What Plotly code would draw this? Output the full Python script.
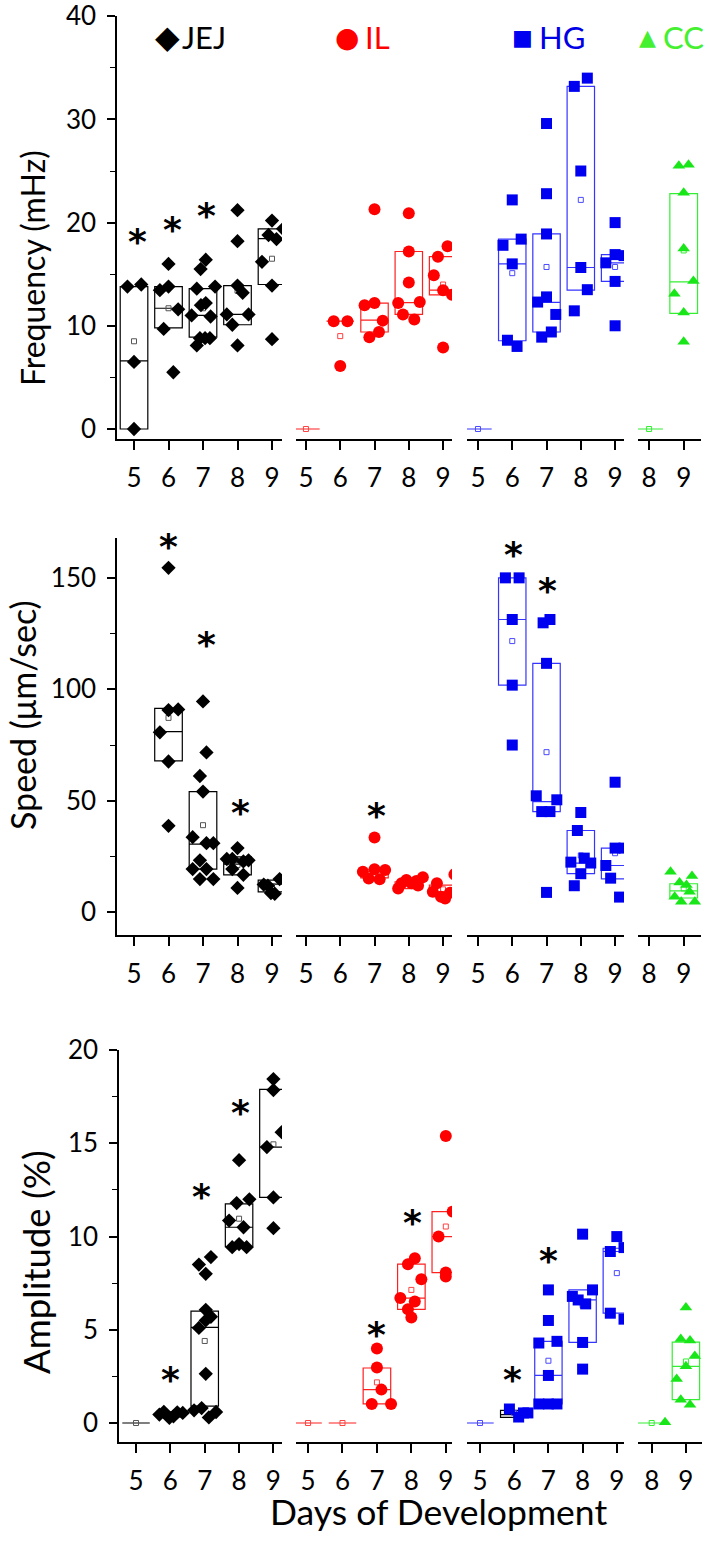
import plotly.graph_objects as go

# ---------------- DATA ----------------
DAYS_MAIN = [5, 6, 7, 8, 9]
DAYS_CC = [8, 9]
TICK_LABELS_MAIN = ["5", "6", "7", "8", "9"]
TICK_LABELS_CC = ["8", "9"]

# ---- Frequency (mHz) ----
FREQ_JEJ_VALS = [[13.8, 14.0, 6.5, 0.0],
                 [13.45, 13.8, 16.0, 11.6, 9.7, 5.5],
                 [13.6, 13.8, 15.5, 16.4, 12.0, 12.2, 11.0, 10.9, 8.1, 8.8, 8.8, 8.8],
                 [21.2, 18.2, 13.9, 13.2, 11.1, 11.1, 10.1, 8.1],
                 [20.2, 19.4, 18.8, 18.4, 16.2, 13.9, 8.7]]
FREQ_JEJ_JIT = [[-0.19, 0.21, 0, 0],
                [-0.25, 0, 0, 0.28, -0.14, 0.14],
                [-0.18, 0.35, -0.07, 0.08, -0.06, 0.08, -0.33, 0.22, -0.18, -0.09, 0.06, 0.2],
                [0, 0, 0, 0.15, -0.31, 0.32, -0.15, 0],
                [0, 0.32, -0.1, 0.13, -0.29, 0, 0]]
FREQ_JEJ_Q1 = [0, 9.8, 8.9, 10.1, 14.0]
FREQ_JEJ_MED = [6.6, 11.7, 11.0, 11.1, 18.45]
FREQ_JEJ_Q3 = [13.8, 13.8, 13.6, 13.9, 19.4]
FREQ_JEJ_MEAN = [8.5, 11.7, 11.7, 13.4, 16.5]

FREQ_IL_VALS = [[],
                [10.45, 10.45, 6.1],
                [21.3, 12.0, 12.2, 10.5, 9.4, 8.9],
                [20.9, 17.2, 14.2, 12.2, 12.3, 11.1, 10.6],
                [17.7, 16.7, 14.9, 13.45, 13.0, 7.9]]
FREQ_IL_JIT = [[],
               [-0.19, 0.21, 0],
               [0, -0.29, 0, 0.24, 0.13, -0.15],
               [0, 0, 0, -0.31, 0.32, -0.17, 0.16],
               [0.13, -0.15, -0.27, 0, 0.26, 0]]
FREQ_IL_Q1 = [0, 6.1, 9.4, 11.1, 13.0]
FREQ_IL_MED = [0, 10.45, 10.55, 12.25, 13.45]
FREQ_IL_Q3 = [0, 10.4, 12.2, 17.2, 16.7]
FREQ_IL_MEAN = [0, 9.0, 12.4, 14.1, 14.0]

FREQ_HG_VALS = [[],
                [22.2, 17.8, 18.4, 16.0, 8.6, 8.0],
                [29.6, 22.8, 18.9, 12.8, 12.3, 11.1, 9.4, 8.9],
                [34.0, 33.2, 25.0, 15.65, 13.5, 11.45],
                [20.0, 16.9, 16.8, 16.1, 14.3, 10.0]]
FREQ_HG_JIT = [[],
               [0, -0.27, 0.26, 0, -0.14, 0.14],
               [0, 0, 0, 0, -0.26, 0.27, 0.14, -0.14],
               [0.19, -0.19, 0, 0, 0.19, -0.19],
               [0, 0, 0.26, -0.27, 0, 0]]
FREQ_HG_Q1 = [0, 8.55, 9.4, 13.45, 14.3]
FREQ_HG_MED = [0, 16.0, 12.26, 15.65, 16.1]
FREQ_HG_Q3 = [0, 18.4, 18.9, 33.2, 16.9]
FREQ_HG_MEAN = [0, 15.1, 15.7, 22.2, 15.7]

FREQ_CC_VALS = [[], [25.5, 25.6, 22.9, 17.5, 14.35, 13.1, 11.3, 8.45]]
FREQ_CC_JIT = [[], [-0.14, 0.14, 0, 0, 0.28, -0.27, 0, 0]]
FREQ_CC_Q1 = [0, 11.2]
FREQ_CC_MED = [0, 14.26]
FREQ_CC_Q3 = [0, 22.8]
FREQ_CC_MEAN = [0, 17.3]

# ---- Speed (um/sec) ----
SPEED_JEJ_DAYS = [6, 7, 8, 9]
SPEED_JEJ_VALS = [[154.6, 90.7, 91.0, 80.7, 67.6, 38.7],
                  [94.6, 71.7, 61.1, 54.1, 33.6, 30.9, 30.9, 23.2, 19.3, 19.3, 14.8, 14.8],
                  [28.7, 23.8, 23.8, 19.3, 22.7, 23.2, 16.7, 10.8],
                  [12.3, 11.8, 8.5, 8.2, 14.8, 14.5]]
SPEED_JEJ_JIT = [[0, 0, 0.28, -0.25, 0, 0],
                 [0, 0.1, -0.09, 0, -0.3, 0.1, 0.3, -0.09, -0.3, 0.1, -0.09, 0.3],
                 [0, -0.31, -0.15, -0.15, 0.17, 0.32, 0.17, 0],
                 [-0.24, -0.12, -0.03, 0.08, 0.22, 0.4]]
SPEED_JEJ_Q1 = [67.9, 19.3, 16.7, 9.0]
SPEED_JEJ_MED = [81.0, 30.5, 21.5, 12.5]
SPEED_JEJ_Q3 = [91.5, 54.1, 24.8, 14.3]
SPEED_JEJ_MEAN = [87.2, 39.0, 21.1, 11.6]

SPEED_IL_DAYS = [7, 8, 9]
SPEED_IL_VALS = [[33.5, 18.1, 19.2, 18.9, 15.1, 14.7],
                 [10.6, 12.9, 14.4, 12.9, 13.9, 11.9, 15.6],
                 [16.9, 12.9, 9.1, 6.9, 6.1, 8.7]]
SPEED_IL_JIT = [[0, -0.34, 0, 0.31, -0.17, 0.15],
                [-0.31, -0.21, -0.07, 0.08, 0.22, 0.27, 0.41],
                [0.33, -0.18, -0.3, -0.06, 0.06, 0.2]]
SPEED_IL_Q1 = [15.3, 10.5, 7.2]
SPEED_IL_MED = [18.3, 12.5, 8.9]
SPEED_IL_Q3 = [19.2, 13.6, 12.1]
SPEED_IL_MEAN = [19.9, 13.2, 10.2]

SPEED_HG_DAYS = [6, 7, 8, 9]
SPEED_HG_VALS = [[150.1, 150.1, 131.4, 101.9, 75.0],
                 [129.9, 131.4, 111.7, 52.2, 50.4, 45.1, 45.1, 8.8],
                 [44.7, 36.6, 22.4, 24.2, 22.0, 17.2, 11.8],
                 [58.3, 28.7, 28.7, 20.9, 15.2, 6.7]]
SPEED_HG_JIT = [[-0.2, 0.2, 0, 0, 0],
                [-0.1, 0.1, 0, -0.3, 0.3, -0.14, 0.1, 0],
                [0, -0.1, -0.29, 0.1, 0.29, 0, -0.19],
                [0, 0, 0.26, -0.27, -0.13, 0.13]]
SPEED_HG_Q1 = [101.9, 45.1, 17.2, 14.9]
SPEED_HG_MED = [131.4, 49.6, 22.0, 20.9]
SPEED_HG_Q3 = [150.1, 111.7, 36.6, 28.7]
SPEED_HG_MEAN = [121.7, 71.8, 25.4, 26.4]

SPEED_CC_DAYS = [9]
SPEED_CC_VALS = [[18.1, 16.2, 13.2, 12.1, 9.1, 6.9, 4.6, 4.6]]
SPEED_CC_JIT = [[-0.38, 0.24, -0.12, 0.08, 0.17, -0.26, -0.07, 0.32]]
SPEED_CC_Q1 = [6.3]
SPEED_CC_MED = [9.5]
SPEED_CC_Q3 = [12.7]
SPEED_CC_MEAN = [10.6]

# ---- Amplitude (%) ----
AMP_JEJ_VALS = [[],
                [0.45, 0.6, 0.27, 0.36, 0.57, 0.54],
                [8.5, 8.9, 8.0, 6.07, 5.1, 5.5, 5.7, 2.64, 0.68, 0.8, 0.3, 0.59],
                [14.1, 11.8, 12.0, 10.86, 10.5, 9.43, 9.6, 9.43],
                [18.45, 17.86, 15.6, 14.8, 12.1, 10.45]]
AMP_JEJ_JIT = [[],
               [-0.32, -0.19, -0.03, 0.09, 0.2, 0.36],
               [-0.17, 0.18, 0.03, 0.03, -0.17, 0.03, 0.18, 0.03, -0.31, -0.09, 0.12, 0.33],
               [0, -0.07, 0.3, -0.29, 0.13, -0.2, 0, 0.22],
               [0, 0, 0.24, -0.19, 0, 0]]
AMP_JEJ_Q1 = [0, 0.33, 0.9, 9.46, 12.1]
AMP_JEJ_MED = [0, 0.5, 5.13, 10.5, 14.8]
AMP_JEJ_Q3 = [0, 0.57, 6.0, 11.75, 17.9]
AMP_JEJ_MEAN = [0, 0.47, 4.4, 10.96, 14.95]

AMP_IL_VALS = [[], [],
               [4.0, 2.98, 1.79, 1.02, 1.02],
               [8.84, 8.52, 7.71, 6.7, 6.52, 6.1, 5.66],
               [15.4, 11.34, 10.0, 8.07, 7.86]]
AMP_IL_JIT = [[], [],
              [0, 0, 0.13, -0.15, 0.41],
              [0.1, -0.1, 0.29, -0.32, 0.1, -0.1, 0],
              [0, 0.2, -0.21, 0, 0]]
AMP_IL_Q1 = [0, 0, 1.02, 6.1, 8.07]
AMP_IL_MED = [0, 0, 1.79, 6.7, 10.0]
AMP_IL_Q3 = [0, 0, 2.95, 8.52, 11.34]
AMP_IL_MEAN = [0, 0, 2.18, 7.14, 10.54]

AMP_HG_VALS = [[],
               [0.75, 0.32, 0.54, 0.54],
               [7.14, 5.5, 4.29, 4.38, 2.55, 1.02, 1.02, 1.02],
               [10.13, 7.14, 6.79, 6.6, 6.39, 4.32, 2.89],
               [10.0, 9.41, 9.2, 5.89, 5.57]]
AMP_HG_JIT = [[],
              [-0.14, 0.13, 0.27, 0.4],
              [0, 0, -0.28, 0.25, 0, -0.28, 0, 0.25],
              [0, 0.29, -0.3, -0.13, 0.09, 0, 0],
              [0, 0.21, -0.19, -0.19, 0.21]]
AMP_HG_Q1 = [0, 0.3, 1.02, 4.32, 5.89]
AMP_HG_MED = [0, 0.45, 2.55, 6.6, 9.2]
AMP_HG_Q3 = [0, 0.68, 4.38, 7.14, 9.375]
AMP_HG_MEAN = [0, 0.54, 3.34, 6.32, 8.04]
AMP_HG_BOXCOLOR_OVERRIDE = {6: "#000000"}

AMP_CC_VALS = [[0.04], [6.2, 4.5, 4.43, 3.6, 3.04, 2.36, 1.25, 0.98]]
AMP_CC_JIT = [[0.39], [0, -0.15, 0.12, 0.26, 0, -0.27, -0.15, 0.12]]
AMP_CC_Q1 = [0, 1.25]
AMP_CC_MED = [0, 3.04]
AMP_CC_Q3 = [0, 4.34]
AMP_CC_MEAN = [0, 3.3]

# significance asterisks: (group index, day position, value)
STARS_FREQ = [(0, 5.1, 18.8), (0, 6.12, 20.0), (0, 7.1, 21.4)]
STARS_SPEED = [(0, 6.0, 167.5), (0, 7.1, 123.5), (0, 8.1, 48.0),
               (1, 7.05, 46.7), (2, 6.03, 163.9), (2, 7.03, 147.7)]
STARS_AMP = [(0, 6.0, 2.7), (0, 6.92, 12.5), (0, 8.03, 17.05),
             (1, 7.0, 5.1), (1, 8.04, 11.15), (2, 5.95, 2.73), (2, 7.0, 9.1)]

GROUP_NAMES = ["JEJ", "IL", "HG", "CC"]
Y_TITLES = ["Frequency (mHz)", "Speed (\u03bcm/sec)", "Amplitude (%)"]
X_TITLE = "Days of Development"

# ---------------- STYLE / LAYOUT ----------------
W, H = 707, 1566
FONT = "Lato"
MARKER_COLORS = ["#000000", "#FF0000", "#0000F0", "#19E619"]
BOX_COLORS = ["#000000", "#FF2020", "#3535FF", "#33EE33"]
MEAN_COLORS = ["#555555", "#FF4040", "#4A4AFF", "#33EE33"]
LEGEND_COLORS = ["#000000", "#FF0000", "#0000E6", "#44F030"]
SYMBOLS = ["diamond", "circle", "square", "triangle-up"]
SIZES = [11, 12, 11, 11]

X_DOM_PX = [[(117, 282), (296, 452), (467, 624), (638, 701)],
            [(117, 282), (296, 452), (467, 624), (638, 701)],
            [(119, 282), (296, 452), (467, 624), (638, 702)]]
X_RANGES = [[(4.507, 9.29), (4.71, 9.26), (4.68, 9.26), (7.68, 9.5)],
            [(4.507, 9.29), (4.71, 9.26), (4.68, 9.26), (7.68, 9.5)],
            [(4.504, 9.25), (4.65, 9.18), (4.62, 9.21), (7.6, 9.47)]]
Y_DOM_PX = [(16, 439), (538, 935), (1050, 1442)]
Y_RANGES = [(-0.97, 40.02), (-10.33, 168.0), (-1.02, 20.01)]
Y_DTICK = [10, 50, 5]

fig = go.Figure()


def xid(r, g):
    return r * 4 + g + 1


def add_group(r, g, days, vals, jits, q1, med, q3, means, override=None):
    xa = "x%d" % xid(r, g)
    ya = "y%d" % (r + 1)
    for i, d in enumerate(days):
        col = BOX_COLORS[g]
        if override and d in override:
            col = override[d]
        fig.add_trace(go.Box(
            x=[d], q1=[q1[i]], median=[med[i]], q3=[q3[i]],
            lowerfence=[q1[i]], upperfence=[q3[i]],
            width=0.8, whiskerwidth=0, fillcolor="rgba(0,0,0,0)",
            line=dict(color=col, width=1.2), xaxis=xa, yaxis=ya,
            showlegend=False, hoverinfo="skip"))
    fig.add_trace(go.Scatter(
        x=days, y=means, mode="markers", xaxis=xa, yaxis=ya,
        marker=dict(symbol="square-open", size=5, color=MEAN_COLORS[g],
                    line=dict(width=1, color=MEAN_COLORS[g])),
        showlegend=False, hoverinfo="skip"))
    px, py = [], []
    for d, vs, js in zip(days, vals, jits):
        for v, j in zip(vs, js):
            px.append(d + j)
            py.append(v)
    fig.add_trace(go.Scatter(
        x=px, y=py, mode="markers", xaxis=xa, yaxis=ya,
        marker=dict(symbol=SYMBOLS[g], size=SIZES[g], color=MARKER_COLORS[g],
                    line=dict(width=0)),
        showlegend=False, hoverinfo="skip"))


add_group(0, 0, DAYS_MAIN, FREQ_JEJ_VALS, FREQ_JEJ_JIT, FREQ_JEJ_Q1, FREQ_JEJ_MED, FREQ_JEJ_Q3, FREQ_JEJ_MEAN)
add_group(0, 1, DAYS_MAIN, FREQ_IL_VALS, FREQ_IL_JIT, FREQ_IL_Q1, FREQ_IL_MED, FREQ_IL_Q3, FREQ_IL_MEAN)
add_group(0, 2, DAYS_MAIN, FREQ_HG_VALS, FREQ_HG_JIT, FREQ_HG_Q1, FREQ_HG_MED, FREQ_HG_Q3, FREQ_HG_MEAN)
add_group(0, 3, DAYS_CC, FREQ_CC_VALS, FREQ_CC_JIT, FREQ_CC_Q1, FREQ_CC_MED, FREQ_CC_Q3, FREQ_CC_MEAN)

add_group(1, 0, SPEED_JEJ_DAYS, SPEED_JEJ_VALS, SPEED_JEJ_JIT, SPEED_JEJ_Q1, SPEED_JEJ_MED, SPEED_JEJ_Q3, SPEED_JEJ_MEAN)
add_group(1, 1, SPEED_IL_DAYS, SPEED_IL_VALS, SPEED_IL_JIT, SPEED_IL_Q1, SPEED_IL_MED, SPEED_IL_Q3, SPEED_IL_MEAN)
add_group(1, 2, SPEED_HG_DAYS, SPEED_HG_VALS, SPEED_HG_JIT, SPEED_HG_Q1, SPEED_HG_MED, SPEED_HG_Q3, SPEED_HG_MEAN)
add_group(1, 3, SPEED_CC_DAYS, SPEED_CC_VALS, SPEED_CC_JIT, SPEED_CC_Q1, SPEED_CC_MED, SPEED_CC_Q3, SPEED_CC_MEAN)

add_group(2, 0, DAYS_MAIN, AMP_JEJ_VALS, AMP_JEJ_JIT, AMP_JEJ_Q1, AMP_JEJ_MED, AMP_JEJ_Q3, AMP_JEJ_MEAN)
add_group(2, 1, DAYS_MAIN, AMP_IL_VALS, AMP_IL_JIT, AMP_IL_Q1, AMP_IL_MED, AMP_IL_Q3, AMP_IL_MEAN)
add_group(2, 2, DAYS_MAIN, AMP_HG_VALS, AMP_HG_JIT, AMP_HG_Q1, AMP_HG_MED, AMP_HG_Q3, AMP_HG_MEAN,
          override=AMP_HG_BOXCOLOR_OVERRIDE)
add_group(2, 3, DAYS_CC, AMP_CC_VALS, AMP_CC_JIT, AMP_CC_Q1, AMP_CC_MED, AMP_CC_Q3, AMP_CC_MEAN)

layout = dict(width=W, height=H, margin=dict(l=0, r=0, t=0, b=0, autoexpand=False),
              paper_bgcolor="white", plot_bgcolor="rgba(0,0,0,0)",
              showlegend=False, font=dict(family=FONT, color="black"))

axis_common = dict(showline=True, linecolor="black", linewidth=1.5, ticks="outside",
                   tickwidth=1.5, tickcolor="black", showgrid=False, zeroline=False,
                   automargin=False, ticklabeloverflow="allow",
                   tickfont=dict(family=FONT, size=26, color="black"), fixedrange=True)

for r in range(3):
    for g in range(4):
        d0, d1 = X_DOM_PX[r][g]
        tv = DAYS_CC if g == 3 else DAYS_MAIN
        tt = TICK_LABELS_CC if g == 3 else TICK_LABELS_MAIN
        key = "xaxis" if xid(r, g) == 1 else "xaxis%d" % xid(r, g)
        layout[key] = dict(axis_common, domain=[d0 / W, d1 / W], range=list(X_RANGES[r][g]),
                           anchor="y%d" % (r + 1), tickmode="array", tickvals=tv,
                           ticktext=tt, ticklen=9, ticklabelstandoff=6)
    y0, y1 = Y_DOM_PX[r]
    ykey = "yaxis" if r == 0 else "yaxis%d" % (r + 1)
    layout[ykey] = dict(axis_common, domain=[1 - y1 / H, 1 - y0 / H], range=list(Y_RANGES[r]),
                        anchor="x%d" % xid(r, 0), tickmode="linear", tick0=0, dtick=Y_DTICK[r],
                        ticklen=8, ticklabelstandoff=6,
                        minor=dict(dtick=Y_DTICK[r] / 2, ticklen=5, tickwidth=1.2,
                                   ticks="outside", tickcolor="black"))

fig.update_layout(**layout)

annotations = []
# significance stars
for r, stars in enumerate([STARS_FREQ, STARS_SPEED, STARS_AMP]):
    for g, d, v in stars:
        annotations.append(dict(x=d, y=v, xref="x%d" % xid(r, g), yref="y%d" % (r + 1),
                                text="<b>*</b>", showarrow=False, yshift=-7,
                                font=dict(family="DejaVu Sans", size=36, color="black")))

# axis titles
TITLE_POS = [(33, 268), (23, 715), (36, 1262)]
TITLE_SIZES = [32, 34, 36.5]
for t, (cx, cy), fs in zip(Y_TITLES, TITLE_POS, TITLE_SIZES):
    annotations.append(dict(x=cx / W, y=1 - cy / H, xref="paper", yref="paper", text=t,
                            textangle=-90, showarrow=False, xanchor="center", yanchor="middle",
                            font=dict(family=FONT, size=fs, color="black")))
annotations.append(dict(x=438 / W, y=1 - 1511 / H, xref="paper", yref="paper", text=X_TITLE,
                        showarrow=False, xanchor="center", yanchor="middle",
                        font=dict(family=FONT, size=35.5, color="black")))

# legend
LEG_GLYPHS = ["\u25c6", "\u25cf", "\u25a0", "\u25b2"]
LEG_GLYPH_X = [167, 347, 522, 647]
LEG_TEXT_X = [180, 363, 537, 661]
LEG_GLYPH_SIZE = [32, 28, 22, 22]
for i in range(4):
    annotations.append(dict(x=LEG_GLYPH_X[i] / W, y=1 - 37 / H, xref="paper", yref="paper",
                            text=LEG_GLYPHS[i], showarrow=False, xanchor="center", yanchor="middle",
                            font=dict(family="DejaVu Sans", size=LEG_GLYPH_SIZE[i],
                                      color=MARKER_COLORS[i] if i < 3 else LEGEND_COLORS[i])))
    annotations.append(dict(x=LEG_TEXT_X[i] / W, y=1 - 37 / H, xref="paper", yref="paper",
                            text=GROUP_NAMES[i], showarrow=False, xanchor="left", yanchor="middle",
                            font=dict(family=FONT, size=31, color=LEGEND_COLORS[i])))

fig.update_layout(annotations=annotations)
fig.write_html("out.html", config={"displayModeBar": False},
               post_script="document.body.style.margin='0';document.body.style.overflow='hidden';")
